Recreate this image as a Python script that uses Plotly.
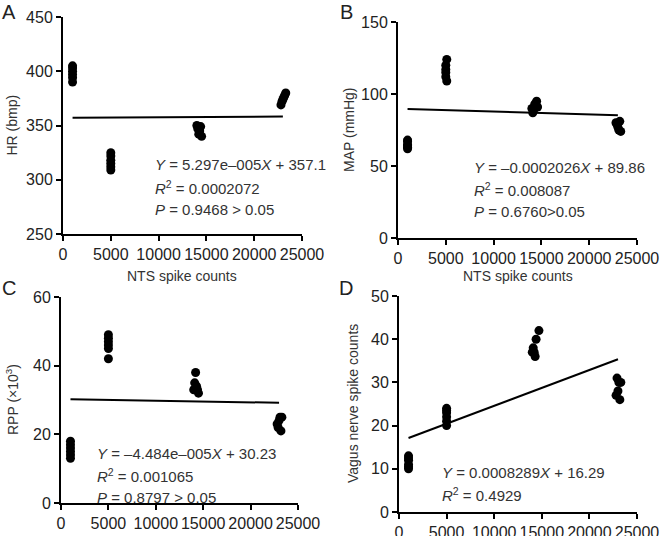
import plotly.graph_objects as go

W, H = 661, 536

# ---- data ----
hr_x = [1000]*6 + [5000]*6 + [14000, 14100, 14200, 14300, 14400, 14500] + [22800, 22900, 23000, 23100, 23200, 23300]
hr_y = [390, 394, 397, 400, 403, 405, 309, 312, 315, 318, 322, 325,
        350, 347, 342, 345, 349, 340, 369, 372, 374, 376, 378, 380]

map_x = [1000]*6 + [5000, 5000, 5000, 5000, 5100, 5100] + [14000, 14100, 14200, 14300, 14500, 14600] + [22800, 22900, 23000, 23100, 23200, 23300]
map_y = [62, 63, 64, 65, 67, 68, 112, 115, 117, 120, 124, 109,
         90, 87, 89, 93, 95, 91, 80, 79, 77, 75, 81, 74]

rpp_x = [1000]*6 + [5000]*6 + [14000, 14100, 14200, 14300, 14400, 14500] + [22800, 22900, 23000, 23100, 23200, 23300]
rpp_y = [13, 14, 15, 16, 17, 18, 42, 45, 46, 47, 48, 49,
         33, 35, 38, 34, 33, 32, 23, 22, 24, 25, 21, 25]

vag_x = [1000]*6 + [5000]*6 + [14000, 14100, 14200, 14300, 14400, 14700] + [22800, 22900, 23000, 23100, 23200, 23300]
vag_y = [10, 10.5, 11, 12, 12.5, 13, 20, 21, 22, 23, 23.5, 24,
         37, 38, 37, 36, 40, 42, 27, 31, 28, 30, 26, 30]

fit_x = [1000, 23000]
hr_fit = (5.297e-05, 357.1)
map_fit = (-0.0002026, 89.86)
rpp_fit = (-4.484e-05, 30.23)
vag_fit = (0.0008289, 16.29)

x_ticks = [0, 5000, 10000, 15000, 20000, 25000]

FONT = "Liberation Sans, Arial, sans-serif"

def px(x):
    return x / W

def py(y):
    return 1 - y / H

panels = [
    dict(letter="A", xs=hr_x, ys=hr_y, fit=hr_fit, yr=[250, 450], dt=50, yt="HR (bmp)",
         dom=(63, 302, 17, 234),
         lines=["<i>Y</i> = 5.297e–005<i>X</i> + 357.1", "<i>R</i><sup>2</sup> = 0.0002072", "<i>P</i> = 0.9468 &gt; 0.05"],
         tpos=(153, 165), ytx=12, lpos=(9, 12), xt=True),
    dict(letter="B", xs=map_x, ys=map_y, fit=map_fit, yr=[0, 150], dt=50, yt="MAP (mmHg)",
         dom=(398, 637, 22, 238),
         lines=["<i>Y</i> = –0.0002026<i>X</i> + 89.86", "<i>R</i><sup>2</sup> = 0.008087", "<i>P</i> = 0.6760&gt;0.05"],
         tpos=(472, 167), ytx=349, lpos=(346, 12), xt=True),
    dict(letter="C", xs=rpp_x, ys=rpp_y, fit=rpp_fit, yr=[0, 60], dt=20, yt="RPP (×10<sup>3</sup>)",
         dom=(61, 298, 297, 503),
         lines=["<i>Y</i> = –4.484e–005<i>X</i> + 30.23", "<i>R</i><sup>2</sup> = 0.001065", "<i>P</i> = 0.8797 &gt; 0.05"],
         tpos=(95, 453), ytx=12, lpos=(9, 288), xt=False),
    dict(letter="D", xs=vag_x, ys=vag_y, fit=vag_fit, yr=[0, 50], dt=10, yt="Vagus nerve spike counts",
         dom=(399, 637, 296, 512),
         lines=["<i>Y</i> = 0.0008289<i>X</i> + 16.29", "<i>R</i><sup>2</sup> = 0.4929"],
         tpos=(440, 472), ytx=353, lpos=(346, 288), xt=False),
]

fig = go.Figure()
annotations = []
layout_axes = {}

for i, p in enumerate(panels, start=1):
    xa = "x" if i == 1 else f"x{i}"
    ya = "y" if i == 1 else f"y{i}"
    x0, x1, yt_, yb_ = p["dom"]
    fig.add_trace(go.Scatter(
        x=p["xs"], y=p["ys"], mode="markers", xaxis=xa, yaxis=ya,
        marker=dict(color="black", size=9), showlegend=False, cliponaxis=False))
    m, b = p["fit"]
    fig.add_trace(go.Scatter(
        x=fit_x, y=[m * v + b for v in fit_x], mode="lines", xaxis=xa, yaxis=ya,
        line=dict(color="black", width=2), showlegend=False))
    axis_common = dict(showline=True, linecolor="black", linewidth=2, ticks="outside",
                       ticklen=5, tickwidth=2, tickcolor="black", showgrid=False, zeroline=False,
                       automargin=False,
                       tickfont=dict(family=FONT, size=16, color="#222"))
    layout_axes["xaxis" if i == 1 else f"xaxis{i}"] = dict(
        domain=[px(x0), px(x1)], range=[0, 25000], tickvals=x_ticks,
        ticktext=[str(v) for v in x_ticks], anchor=ya, **axis_common)
    layout_axes["yaxis" if i == 1 else f"yaxis{i}"] = dict(
        domain=[py(yb_), py(yt_)], range=p["yr"], dtick=p["dt"], tick0=p["yr"][0],
        anchor=xa, **axis_common)
    tx, ty = p["tpos"]
    for k, line in enumerate(p["lines"]):
        annotations.append(dict(text=line, x=px(tx), y=py(ty + 22 * k), xref="paper", yref="paper",
                                xanchor="left", yanchor="middle", showarrow=False,
                                font=dict(family=FONT, size=15, color="#333")))
    annotations.append(dict(text=p["yt"], x=px(p["ytx"]), y=py((yt_ + yb_) / 2), xref="paper", yref="paper",
                            xanchor="center", yanchor="middle", textangle=-90, showarrow=False,
                            font=dict(family=FONT, size=14, color="#333")))
    lx, ly = p["lpos"]
    annotations.append(dict(text=p["letter"], x=px(lx), y=py(ly), xref="paper", yref="paper",
                            xanchor="center", yanchor="middle", showarrow=False,
                            font=dict(family=FONT, size=20, color="#222")))
    if p["xt"]:
        annotations.append(dict(text="NTS spike counts", x=px((x0 + x1) / 2), y=py(276), xref="paper", yref="paper",
                                xanchor="center", yanchor="middle", showarrow=False,
                                font=dict(family=FONT, size=14, color="#333")))

fig.update_layout(width=W, height=H, margin=dict(l=0, r=0, t=0, b=0),
                  paper_bgcolor="white", plot_bgcolor="white",
                  annotations=annotations, **layout_axes)

fig.write_html("out.html", config={"displayModeBar": False},
               post_script="document.body.style.margin='0';")
